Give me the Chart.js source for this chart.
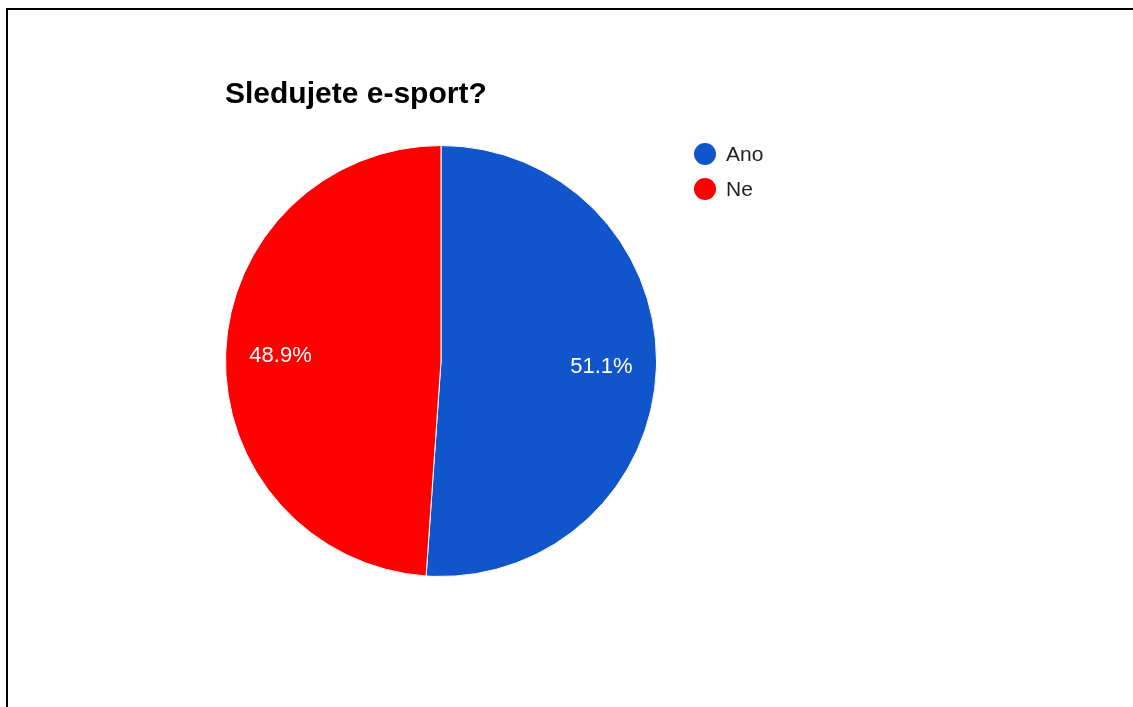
<!DOCTYPE html>
<html>
<head>
<meta charset="utf-8">
<script src="https://cdn.jsdelivr.net/npm/chart.js"></script>
<style>
    html, body {
        margin: 0;
        padding: 0;
        background: #fff;
        font-family: "Liberation Sans", Arial, sans-serif;
    }
    .frame {
        position: absolute;
        left: 6px;
        top: 8px;
        width: 1140px;
        height: 720px;
        border-top: 2px solid #000;
        border-left: 2px solid #000;
    }
    #chart {
        position: absolute;
        left: 0;
        top: 0;
    }
    .chart-title {
        position: absolute;
        left: 225px;
        top: 76px;
        font-size: 30px;
        font-weight: bold;
        color: #000;
    }
    .legend {
        position: absolute;
        left: 694px;
        top: 136px;
    }
    .legend-item {
        display: flex;
        align-items: center;
        height: 35px;
        font-size: 21px;
        color: #222;
    }
    .legend-dot {
        width: 22px;
        height: 22px;
        border-radius: 50%;
        margin-right: 10px;
    }
</style>
</head>
<body>
<div class="frame"></div>
<canvas id="chart" width="1133" height="707"></canvas>
<div class="chart-title">Sledujete e-sport?</div>
<div class="legend" id="legend"></div>

<script>
const labels = ['Ano', 'Ne'];
const values = [51.1, 48.9];
const colors = ['#1155cc', '#ff0000'];

// percentage text inside each slice
const sliceLabels = {
    id: 'sliceLabels',
    afterDatasetsDraw(chart) {
        const ctx = chart.ctx;
        const meta = chart.getDatasetMeta(0);
        const total = values.reduce((a, b) => a + b, 0);
        ctx.save();
        ctx.fillStyle = '#fff';
        ctx.font = '22px "Liberation Sans", Arial, sans-serif';
        ctx.textAlign = 'center';
        ctx.textBaseline = 'middle';
        meta.data.forEach((arc, i) => {
            const mid = (arc.startAngle + arc.endAngle) / 2;
            const r = arc.outerRadius * 0.745;
            const x = arc.x + Math.cos(mid) * r;
            const y = arc.y + Math.sin(mid) * r;
            ctx.fillText((values[i] / total * 100).toFixed(1) + '%', x, y);
        });
        ctx.restore();
    }
};

document.addEventListener("DOMContentLoaded", () => {
    const legend = document.getElementById('legend');
    labels.forEach((label, i) => {
        legend.insertAdjacentHTML('beforeend', `
            <div class="legend-item">
                <span class="legend-dot" style="background:${colors[i]}"></span>${label}
            </div>`);
    });

    const ctx = document.getElementById('chart').getContext('2d');
    new Chart(ctx, {
        type: 'pie',
        data: {
            labels: labels,
            datasets: [{
                data: values,
                backgroundColor: colors,
                borderColor: '#fff',
                borderWidth: 1,
                hoverOffset: 0
            }]
        },
        options: {
            responsive: false,
            animation: false,
            layout: {
                padding: {left: 225, top: 145, right: 476, bottom: 130}
            },
            plugins: {
                legend: {display: false},
                title: {display: false},
                tooltip: {enabled: false}
            }
        },
        plugins: [sliceLabels]
    });
});
</script>
</body>
</html>
